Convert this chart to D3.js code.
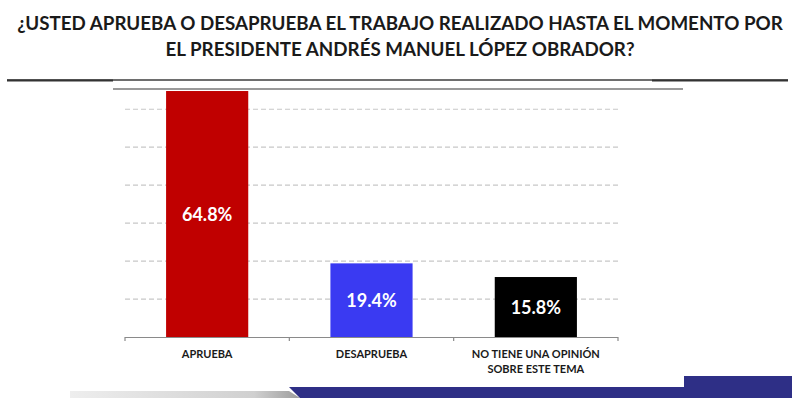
<!DOCTYPE html>
<html>
<head>
<meta charset="utf-8">
<script src="https://cdn.jsdelivr.net/npm/d3@7"></script>
<style>
  html, body { margin: 0; padding: 0; background: #fff; }
  svg { display: block; }
</style>
</head>
<body>
<svg id="chart" width="800" height="398"></svg>
<script>
const titleLines = [
  "¿USTED APRUEBA O DESAPRUEBA EL TRABAJO REALIZADO HASTA EL MOMENTO POR",
  "EL PRESIDENTE ANDRÉS MANUEL LÓPEZ OBRADOR?"
];
const categories = ["APRUEBA", "DESAPRUEBA", "NO TIENE UNA OPINIÓN|SOBRE ESTE TEMA"];
const values = [64.8, 19.4, 15.8];
const valueLabels = ["64.8%", "19.4%", "15.8%"];
const barColors = ["#c00000", "#3a3af2", "#000000"];
const gridTicks = [10, 20, 30, 40, 50, 60];

const svg = d3.select("#chart");
const font = "Lato, 'Open Sans', 'DejaVu Sans', sans-serif";

// Title: size the font so line 1 spans about the same width as the reference
const titleY = [30, 56];
const t0 = svg.append("text")
  .attr("x", 400).attr("y", titleY[0])
  .attr("text-anchor", "middle")
  .attr("font-family", font).attr("font-weight", "bold")
  .attr("font-size", 20).attr("fill", "#1a1a1a")
  .text(titleLines[0]);
const w0 = t0.node().getComputedTextLength();
const titleSize = Math.min(22, 20 * 766 / w0);
t0.attr("font-size", titleSize);
svg.append("text")
  .attr("x", 400).attr("y", titleY[1])
  .attr("text-anchor", "middle")
  .attr("font-family", font).attr("font-weight", "bold")
  .attr("font-size", titleSize).attr("fill", "#1a1a1a")
  .text(titleLines[1]);

// Decorative header rules
svg.append("line").attr("x1", 7).attr("x2", 788).attr("y1", 80).attr("y2", 80)
  .attr("stroke", "#6e6e6e").attr("stroke-width", 2);
svg.append("line").attr("x1", 7).attr("x2", 113).attr("y1", 80.5).attr("y2", 80.5)
  .attr("stroke", "#333").attr("stroke-width", 2);
svg.append("line").attr("x1", 652).attr("x2", 788).attr("y1", 80.5).attr("y2", 80.5)
  .attr("stroke", "#333").attr("stroke-width", 2);
svg.append("line").attr("x1", 113).attr("x2", 683).attr("y1", 89).attr("y2", 89)
  .attr("stroke", "#9a9a9a").attr("stroke-width", 2);

// Bottom decoration
const defs = svg.append("defs");
const grad = defs.append("linearGradient").attr("id", "gband").attr("x1", 0).attr("x2", 1);
grad.append("stop").attr("offset", "0%").attr("stop-color", "#eeeeee");
grad.append("stop").attr("offset", "80%").attr("stop-color", "#d0d0d0");
grad.append("stop").attr("offset", "100%").attr("stop-color", "#9c9c9c");
svg.append("polygon").attr("points", "70,391 289,391 300,398 70,398").attr("fill", "url(#gband)");
svg.append("polygon").attr("points", "289,387 684,387 684,376 792,376 792,398 300,398")
  .attr("fill", "#2e2f86");

// Scales
const x = d3.scaleBand().domain(categories).range([125, 618]).paddingInner(0.5).paddingOuter(0.25);
const y = d3.scaleLinear().domain([0, 70]).range([337, 337 - 70 * 3.796]);

// Gridlines
svg.append("g").selectAll("line").data(gridTicks).join("line")
  .attr("x1", 125).attr("x2", 618)
  .attr("y1", d => y(d)).attr("y2", d => y(d))
  .attr("stroke", "#c8c8c8").attr("stroke-width", 1.2)
  .attr("stroke-dasharray", "5,3");

// Bars
svg.append("g").selectAll("rect").data(values).join("rect")
  .attr("x", (d, i) => x(categories[i]))
  .attr("width", x.bandwidth())
  .attr("y", d => y(d))
  .attr("height", d => y(0) - y(d))
  .attr("fill", (d, i) => barColors[i]);

// Value labels
svg.append("g").selectAll("text").data(values).join("text")
  .attr("x", (d, i) => x(categories[i]) + x.bandwidth() / 2)
  .attr("y", d => (y(d) + y(0)) / 2 + 6.5)
  .attr("text-anchor", "middle")
  .attr("font-family", font).attr("font-weight", "bold")
  .attr("font-size", 18).attr("fill", "#fff")
  .text((d, i) => valueLabels[i]);

// X axis
const step = x.step();
const axisG = svg.append("g");
axisG.append("line").attr("x1", 125).attr("x2", 618).attr("y1", 337.5).attr("y2", 337.5)
  .attr("stroke", "#8a8a8a").attr("stroke-width", 1.2);
const tickPos = categories.map(c => x(c) - step * x.paddingInner() / 2);
tickPos.push(x(categories[categories.length - 1]) + x.bandwidth() + step * x.paddingInner() / 2);
axisG.selectAll("line.tick").data(tickPos).join("line").attr("class", "tick")
  .attr("x1", d => d).attr("x2", d => d).attr("y1", 337).attr("y2", 341)
  .attr("stroke", "#8a8a8a").attr("stroke-width", 1.2);

// Category labels
categories.forEach(c => {
  const parts = c.split("|");
  const t = svg.append("text")
    .attr("x", x(c) + x.bandwidth() / 2).attr("y", 358)
    .attr("text-anchor", "middle")
    .attr("font-family", font).attr("font-weight", "bold")
    .attr("font-size", 11).attr("fill", "#1a1a1a");
  parts.forEach((p, i) => {
    t.append("tspan").attr("x", x(c) + x.bandwidth() / 2).attr("dy", i === 0 ? 0 : 15).text(p);
  });
});
</script>
</body>
</html>
